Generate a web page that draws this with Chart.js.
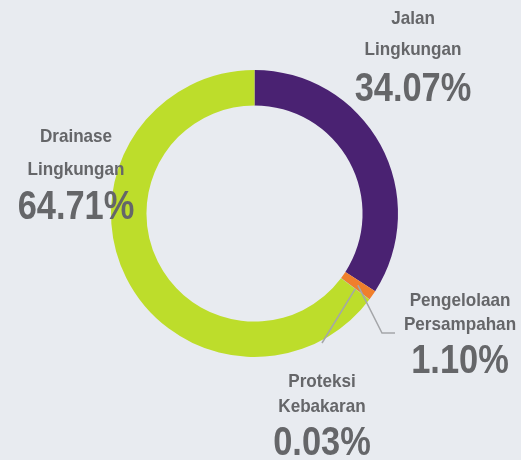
<!DOCTYPE html>
<html>
<head>
<meta charset="utf-8">
<script src="https://cdn.jsdelivr.net/npm/chart.js@4/dist/chart.umd.min.js"></script>
<style>
  html, body { margin: 0; padding: 0; background: #e8ebf0; }
  #wrap { width: 521px; height: 460px; position: relative; }
</style>
</head>
<body>
<div id="wrap"><canvas id="donut"></canvas></div>
<script>
// Share of budget per program
const categories = [
    ['Jalan', 'Lingkungan'],
    ['Pengelolaan', 'Persampahan'],
    ['Proteksi', 'Kebakaran'],
    ['Drainase', 'Lingkungan']
];
const shares = [34.07, 1.10, 0.03, 64.71];
const sliceColors = ['#4a2272', '#f07f2c', '#8a9bb0', '#bddd2b'];

// label blocks: centre x, baselines of the name lines, baseline of the percentage
const labelLayout = [
    { x: 413, lines: [23.5, 55], pctY: 101, leader: null },
    { x: 460, lines: [306, 329.5], pctY: 373, leader: [[382, 333], [395, 333]] },
    { x: 322, lines: [386.5, 411.5], pctY: 455, leader: [[322, 343]] },
    { x: 76, lines: [141.5, 174.5], pctY: 219, leader: null }
];

// condensed look: regular sans squeezed horizontally
const NAME_FONT = "bold 19px 'Liberation Sans', Arial, sans-serif";
const NAME_SQUEEZE = 0.9;
const PCT_FONT = "bold 40px 'Liberation Sans', Arial, sans-serif";
const PCT_SQUEEZE = 0.86;
const TEXT_COLOR = '#656669';

function squeezedText(ctx, text, x, y, sx) {
    ctx.save();
    ctx.translate(x, y);
    ctx.scale(sx, 1);
    ctx.fillText(text, 0, 0);
    ctx.restore();
}

const outsideLabels = {
    id: 'outsideLabels',
    afterDatasetsDraw(chart) {
        const ctx = chart.ctx;
        const arcs = chart.getDatasetMeta(0).data;
        ctx.save();
        arcs.forEach((arc, i) => {
            const lay = labelLayout[i];
            if (lay.leader) {
                const p = arc.getProps(['x', 'y', 'startAngle', 'endAngle', 'innerRadius', 'outerRadius'], true);
                const mid = (p.startAngle + p.endAngle) / 2;
                const r = (p.innerRadius + p.outerRadius) / 2;
                ctx.beginPath();
                ctx.moveTo(p.x + Math.cos(mid) * r, p.y + Math.sin(mid) * r);
                lay.leader.forEach(pt => ctx.lineTo(pt[0], pt[1]));
                ctx.strokeStyle = '#a4a6a9';
                ctx.lineWidth = 1.5;
                ctx.stroke();
            }
            ctx.fillStyle = TEXT_COLOR;
            ctx.textAlign = 'center';
            ctx.textBaseline = 'alphabetic';
            ctx.font = NAME_FONT;
            categories[i].forEach((line, j) => squeezedText(ctx, line, lay.x, lay.lines[j], NAME_SQUEEZE));
            ctx.font = PCT_FONT;
            squeezedText(ctx, shares[i].toFixed(2) + '%', lay.x, lay.pctY, PCT_SQUEEZE);
        });
        ctx.restore();
    }
};

new Chart(document.getElementById('donut'), {
    type: 'doughnut',
    data: {
        labels: categories.map(c => c.join(' ')),
        datasets: [{
            data: shares,
            backgroundColor: sliceColors,
            borderWidth: 0
        }]
    },
    options: {
        responsive: true,
        maintainAspectRatio: false,
        animation: false,
        cutout: '75.3%',
        layout: { padding: { left: 111, right: 123, top: 70, bottom: 103 } },
        plugins: { legend: { display: false }, tooltip: { enabled: false } }
    },
    plugins: [outsideLabels]
});
</script>
</body>
</html>
